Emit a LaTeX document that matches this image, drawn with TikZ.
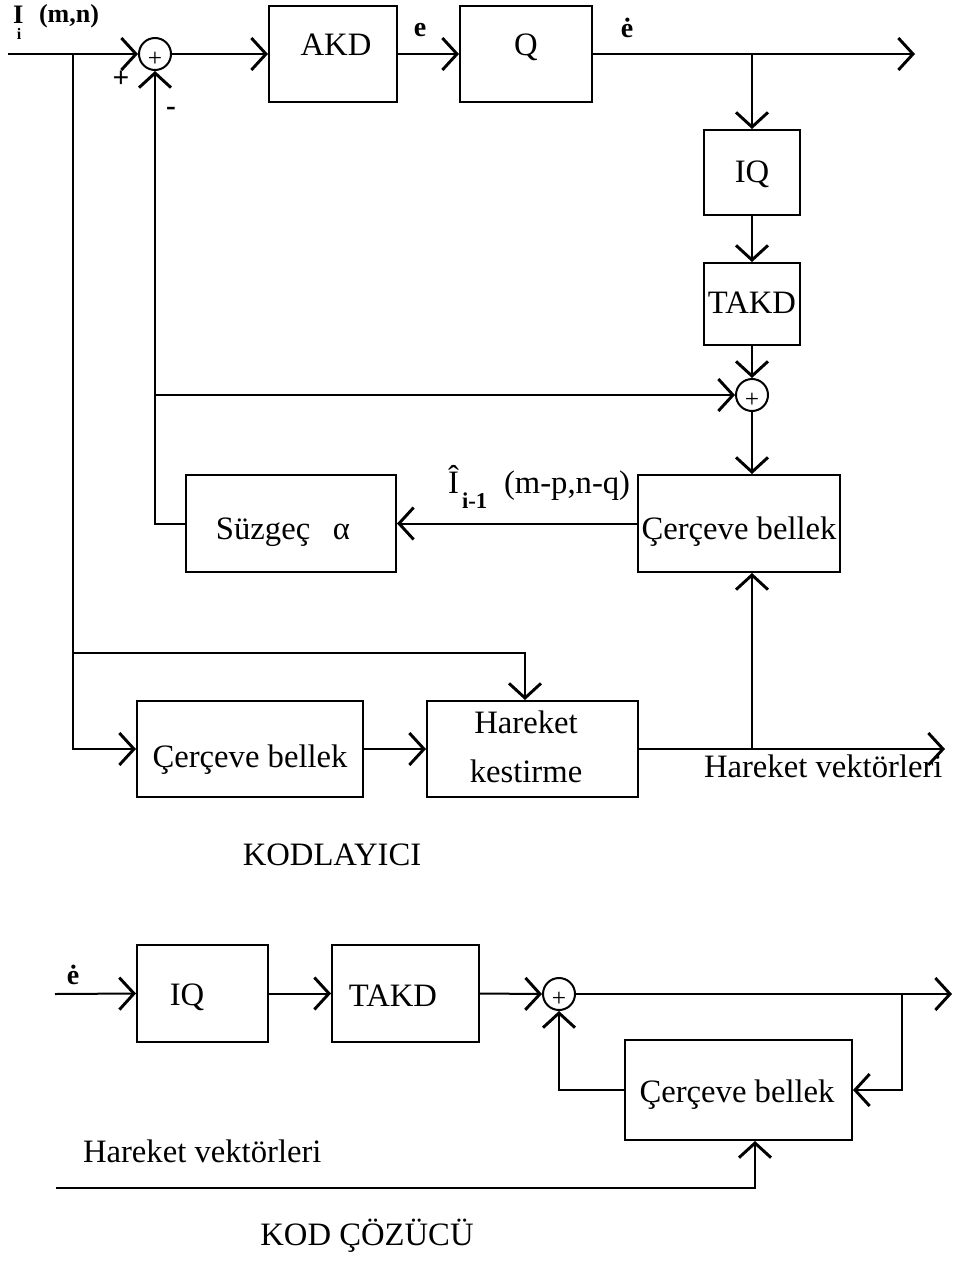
\documentclass[tikz,border=0pt]{standalone}
\usepackage{fontspec}
\setmainfont{Liberation Serif}
\usetikzlibrary{arrows.meta,fit}
\begin{document}
\begin{tikzpicture}[x=0.75pt,y=-0.75pt,
  line width=1.5pt,
  blk/.style={draw, line width=1.5pt, inner sep=0pt},
  sumc/.style={draw, circle, line width=1.5pt, minimum size=24pt, inner sep=0pt},
  arr/.style={-{Straight Barb[length=11pt,width=24pt,line width=2.2pt]}},
  txt/.style={font=\fontsize{24.5}{29}\selectfont, inner sep=0pt},
  lab/.style={font=\fontsize{21}{24}\bfseries\selectfont, inner sep=0pt},
  plus/.style={font=\fontsize{19}{19}\selectfont, inner sep=0pt},
  sign/.style={font=\fontsize{22}{22}\bfseries\selectfont, inner sep=0pt},
]
\useasboundingbox (0,0) rectangle (960,1263);

% ---------- KODLAYICI ----------
\coordinate (in) at (8,54);
\coordinate (j1) at (73,54);
\node[sumc] (s1) at (155,54) {};
\node[plus] (s1p) at ([yshift=-4pt]s1.center) {+};
\node[blk, fit={(269,6)(397,102)}] (akd) {};
\node[txt] (akdt) at (336,45) {AKD};
\node[blk, fit={(460,6)(592,102)}] (q) {};
\node[txt] (qt) at (526,47) {Q};
\coordinate (out1) at (915,54);
\coordinate (j2) at (752,54);
\node[blk, fit={(704,130)(800,215)}] (iq) {};
\node[txt] (iqt) at (752,174) {IQ};
\node[blk, fit={(704,263)(800,345)}] (takd) {};
\node[txt] (takdt) at (752,303) {TAKD};
\node[sumc] (s2) at (752,395) {};
\node[plus] (s2p) at ([yshift=-4pt]s2.center) {+};
\coordinate (j3) at (155,395);
\node[blk, fit={(638,475)(840,572)}] (cb1) {};
\node[txt] (cb1t) at (739,532) {Çerçeve bellek};
\node[blk, fit={(186,475)(396,572)}] (suz) {};
\node[txt] (suzt) at (283,532) {Süzgeç\hspace{17pt}α};
\node[blk, fit={(137,701)(363,797)}] (cb2) {};
\node[txt] (cb2t) at (250,759.5) {Çerçeve bellek};
\node[blk, fit={(427,701)(638,797)}] (hk) {};
\node[txt] (hkt1) at (526,722) {Hareket};
\node[txt] (hkt2) at (526,771) {kestirme};
\coordinate (j4) at (73,653);
\coordinate (j5) at (525,653);
\coordinate (out2) at (945,749);
\coordinate (j6) at (752,749);

\node[font=\fontsize{20}{20}\bfseries\selectfont, inner sep=0pt, anchor=base west] (lI) at (12,24) {I};
\node[font=\fontsize{12}{12}\bfseries\selectfont, inner sep=0pt, anchor=base] (li) at (19,40) {i};
\node[font=\fontsize{19.5}{20}\bfseries\selectfont, inner sep=0pt, anchor=base west] (lmn) at (38,23) {(m,n)};
\node[sign] (pl) at (121,79) {+};
\node[sign] (mi) at (171,111) {-};
\node[lab] (e1) at (420,30) {e};
\node[lab] (e2) at (627,28) {ė};
\node[txt, anchor=base west] (ih) at (447,493) {Î};
\node[font=\fontsize{17}{17}\bfseries\selectfont, inner sep=0pt, anchor=base west] (ihs) at (461,508) {i-1};
\node[txt, anchor=base west] (ihm) at (503,493) {(m-p,n-q)};
\node[txt, anchor=base west] (hv1t) at (703,777) {Hareket vektörleri};
\node[txt, anchor=base] (kod) at (332,865) {KODLAYICI};

\draw (in) -- (j1);
\draw[arr] (j1) -- (s1.west);
\draw[arr] (s1.east) -- (akd.west);
\draw[arr] (akd.east) -- (q.west);
\draw[arr] (q.east) -- (out1);
\draw[arr] (j2) -- (iq.north);
\draw[arr] (iq.south) -- (takd.north);
\draw[arr] (takd.south) -- (s2.north);
\draw[arr] (j3) -- (s2.west);
\draw[arr] (s2.south) -- (s2.south |- cb1.north);
\draw[arr] (cb1.west) -- (suz.east);
\draw[arr] (suz.west) -- (s1.south |- suz.west) -- (s1.south);
\draw[arr] (j1) -- (j1 |- cb2.west) -- (cb2.west);
\draw[arr] (j4) -- (j5) -- (j5 |- hk.north);
\draw[arr] (cb2.east) -- (hk.west);
\draw[arr] (hk.east) -- (out2);
\draw[arr] (j6) -- (j6 |- cb1.south);

% ---------- KOD COZUCU ----------
\coordinate (din) at (55,994);
\node[blk, fit={(137,945)(268,1042)}] (diq) {};
\node[txt] (diqt) at (187,997) {IQ};
\node[blk, fit={(332,945)(479,1042)}] (dtakd) {};
\node[txt] (dtakdt) at (393,996) {TAKD};
\node[sumc] (s3) at (559,994) {};
\node[plus] (s3p) at ([yshift=-4pt]s3.center) {+};
\coordinate (dout) at (952,994);
\coordinate (j7) at (902,994);
\node[blk, fit={(625,1040)(852,1140)}] (cb3) {};
\node[txt] (cb3t) at (737,1095) {Çerçeve bellek};
\coordinate (hv0) at (56,1188);
\coordinate (hvc) at (755,1188);
\node[lab] (e3) at (73,975) {ė};
\node[txt, anchor=base west] (hv2t) at (82,1162) {Hareket vektörleri};
\node[txt, anchor=base] (kcz) at (367,1245) {KOD ÇÖZÜCÜ};

\draw[arr] (din) -- (diq.west);
\draw[arr] (diq.east) -- (dtakd.west);
\draw[arr] (dtakd.east) -- (s3.west);
\draw[arr] (s3.east) -- (dout);
\draw[arr] (j7) -- (j7 |- cb3.east) -- (cb3.east);
\draw[arr] (cb3.west) -- (s3.south |- cb3.west) -- (s3.south);
\draw[arr] (hv0) -- (hvc) -- (hvc |- cb3.south);
\end{tikzpicture}
\end{document}
